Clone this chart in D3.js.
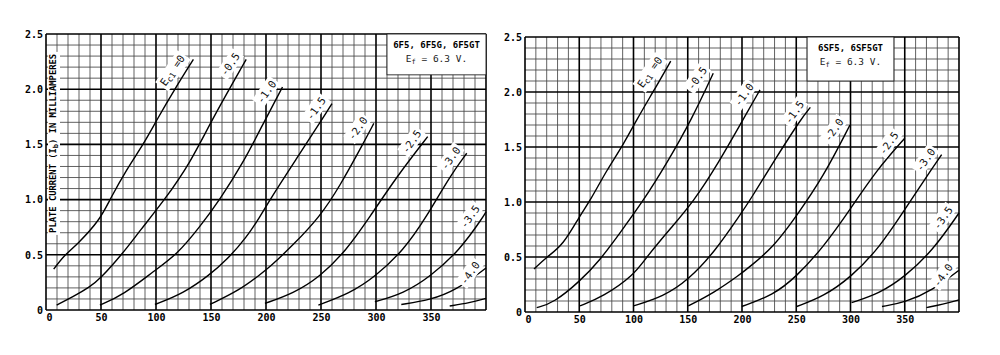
<!DOCTYPE html>
<html><head><meta charset="utf-8">
<script src="https://cdn.jsdelivr.net/npm/d3@7"></script>
<style>
html,body{margin:0;padding:0;background:#fff;}
svg{display:block;}
</style></head><body>
<svg id="c" width="1000" height="355"></svg>
<script>
// ---------- data ----------
const xTicks = [0, 50, 100, 150, 200, 250, 300, 350];
const yTicks = [0, 0.5, 1.0, 1.5, 2.0, 2.5];
const curveLabels = ["=0", "-0.5", "-1.0", "-1.5", "-2.0", "-2.5", "-3.0", "-3.5", "-4.0", null];
const leftTitle = "6F5, 6F5G, 6F5GT";
const rightTitle = "6SF5, 6SF5GT";
const heaterText = " = 6.3 V.";
const yAxisTitle = ["PLATE CURRENT (I", "b", ") IN MILLIAMPERES"];

// 6F5 family: [plate volts, plate mA]
const left0  = [[7,0.37],[17,0.50],[28,0.59],[49,0.815],[58,1.0],[73,1.27],[88.5,1.5],[100.6,1.72],[117,2.0],[134,2.27]];
const left05 = [[9.7,0.045],[24.8,0.12],[40,0.21],[49,0.28],[68.8,0.50],[85.5,0.72],[108,1.0],[131,1.33],[150.6,1.72],[182,2.27]];
const left10 = [[49,0.045],[70,0.136],[99,0.36],[118.8,0.5],[140,0.755],[158,1.0],[179,1.33],[196,1.66],[215,2.02]];
const left15 = [[99,0.05],[125,0.15],[149,0.32],[164,0.45],[182.5,0.66],[194.5,0.845],[203.6,1.0],[227,1.36],[250.6,1.72],[260,1.87]];
const left20 = [[149,0.05],[176,0.18],[194.5,0.32],[203.6,0.39],[224.8,0.59],[249,0.845],[267,1.12],[288.5,1.51],[298,1.69]];
const left25 = [[199,0.06],[224.8,0.15],[249,0.30],[273,0.54],[294.5,0.845],[319,1.21],[347,1.57]];
const left30 = [[247.6,0.045],[276,0.15],[299,0.30],[325,0.54],[346,0.845],[367,1.21],[382.5,1.42]];
const left35 = [[299,0.075],[325,0.15],[349,0.30],[376,0.54],[397.5,0.845],[400,0.89]];
const left40 = [[323,0.05],[349,0.09],[373,0.18],[400,0.38]];
const left45 = [[367,0.036],[385,0.065],[400,0.105]];

// 6SF5 family
const right0  = [[8.3,0.39],[20,0.50],[35.3,0.61],[50.7,0.88],[60,1.01],[75.3,1.29],[90.6,1.52],[103,1.75],[118,2.0],[134.3,2.28]];
const right05 = [[10.8,0.04],[26,0.08],[50.7,0.28],[69,0.47],[87.6,0.72],[109,1.01],[130.6,1.35],[153.6,1.75],[173.5,2.17]];
const right10 = [[50.7,0.055],[72,0.14],[100,0.33],[112,0.5],[135,0.77],[155,1.0],[178,1.35],[201,1.75],[216.6,2.02]];
const right15 = [[100,0.055],[127.5,0.14],[150.5,0.29],[175,0.55],[198,0.88],[207,1.01],[230,1.38],[254,1.75],[263,1.86]];
const right20 = [[150.5,0.055],[175,0.18],[198,0.34],[207,0.41],[229,0.59],[250,0.87],[275,1.23],[299.5,1.70]];
const right25 = [[199.7,0.05],[229,0.155],[250,0.32],[275,0.59],[299.5,0.93],[324,1.29],[350,1.58]];
const right30 = [[250.4,0.05],[275,0.14],[301,0.32],[327,0.59],[350,0.93],[370,1.23],[384,1.43]];
const right35 = [[301,0.085],[327,0.17],[350,0.32],[376,0.56],[400,0.90]];
const right40 = [[329,0.05],[350,0.085],[376,0.2],[400,0.38]];
const right45 = [[370,0.04],[385,0.07],[400,0.11]];

// ---------- drawing ----------
const svg = d3.select("#c");
const MONO = "'DejaVu Sans Mono', 'Liberation Mono', monospace";

function drawChart(cfg) {
  const x = d3.scaleLinear().domain([0, 400]).range([cfg.left, cfg.right]);
  const y = d3.scaleLinear().domain([0, 2.5]).range([cfg.bottom, cfg.top]);
  const g = svg.append("g");

  // grid
  const vs = d3.range(0, 401, 10);
  const is = d3.range(0, 26).map(d => d / 10);
  const grid = g.append("g");
  const drawGrid = (major) => {
    grid.selectAll(null).data(vs.filter(v => (v % 50 === 0) === major)).enter().append("line")
      .attr("x1", d => x(d)).attr("x2", d => x(d)).attr("y1", y(0)).attr("y2", y(2.5))
      .attr("stroke", major ? "#000" : "#444").attr("stroke-width", major ? 1.6 : 0.85);
    grid.selectAll(null).data(is.filter(v => (Math.round(v * 10) % 5 === 0) === major)).enter().append("line")
      .attr("y1", d => y(d)).attr("y2", d => y(d)).attr("x1", x(0)).attr("x2", x(400))
      .attr("stroke", major ? "#000" : "#444").attr("stroke-width", major ? 1.6 : 0.85);
  };
  drawGrid(false);
  drawGrid(true);

  // legend box
  const bx0 = x(cfg.box[0]), bx1 = x(cfg.box[1]), by1 = y(cfg.box[2]);
  g.append("rect").attr("x", bx0).attr("y", y(2.5)).attr("width", bx1 - bx0).attr("height", by1 - y(2.5))
    .attr("fill", "#fff").attr("stroke", "#222").attr("stroke-width", 0.9);
  const cx = (bx0 + bx1) / 2;
  g.append("text").attr("x", cx).attr("y", y(2.5) + 14).attr("text-anchor", "middle")
    .attr("font-family", MONO).attr("font-weight", "bold").attr("font-size", 9).text(cfg.title);
  const ht = g.append("text").attr("x", cx).attr("y", y(2.5) + 28).attr("text-anchor", "middle")
    .attr("font-family", MONO).attr("font-size", 9.5).attr("fill", "#222");
  ht.append("tspan").text("E");
  ht.append("tspan").attr("font-size", 7).attr("dy", 2).text("f");
  ht.append("tspan").attr("dy", -2).text(heaterText);

  // y-axis title (left chart only)
  if (cfg.yTitle) {
    const tg = g.append("g").attr("transform", `translate(${x(0) + 10},${y(1.5) - 1}) rotate(-90)`);
    const tt = tg.append("text").attr("text-anchor", "middle").attr("font-family", MONO)
      .attr("font-weight", "bold").attr("font-size", 8.8);
    tt.append("tspan").text(yAxisTitle[0]);
    tt.append("tspan").attr("font-size", 7).attr("dy", 2).text(yAxisTitle[1]);
    tt.append("tspan").attr("dy", -2).text(yAxisTitle[2]);
    const bb = tt.node().getBBox();
    tg.insert("rect", "text").attr("x", bb.x - 2).attr("y", bb.y).attr("width", bb.width + 4)
      .attr("height", bb.height).attr("fill", "#fff");
  }

  // curves
  const line = d3.line().x(d => x(d[0])).y(d => y(d[1])).curve(d3.curveBasis);
  g.append("g").selectAll("path").data(cfg.curves).enter().append("path")
    .attr("d", line).attr("fill", "none").attr("stroke", "#000").attr("stroke-width", 1.4);

  // curve labels
  cfg.curves.forEach((c, i) => {
    const lab = curveLabels[i];
    if (!lab) return;
    const end = c[c.length - 1];
    const first = i === 0;
    const dx = first ? -21 : -16, dy = first ? 11 : 5;
    const lg = g.append("g").attr("transform", `translate(${x(end[0]) + dx},${y(end[1]) + dy}) rotate(-55)`);
    const t = lg.append("text").attr("text-anchor", "middle").attr("dy", "0.35em")
      .attr("font-family", MONO).attr("font-size", 10.5).attr("fill", "#111");
    if (first) {
      t.append("tspan").text("E");
      t.append("tspan").attr("font-size", 8).attr("dy", 2).text("c1");
      t.append("tspan").attr("dy", -2).text(" " + lab);
    } else {
      t.text(lab);
    }
    const bb = t.node().getBBox();
    lg.insert("rect", "text").attr("x", bb.x - 2).attr("y", bb.y - 1).attr("width", bb.width + 4)
      .attr("height", bb.height + 2).attr("fill", "#fff");
  });

  // axes (labels only)
  const ya = d3.axisLeft(y).tickValues(yTicks).tickSize(0).tickPadding(3)
    .tickFormat(d => d === 0 ? "0" : d3.format(".1f")(d));
  const yg = g.append("g").attr("transform", `translate(${x(0)},0)`).call(ya);
  yg.select(".domain").remove();
  const xa = d3.axisBottom(x).tickValues(xTicks).tickSize(0).tickPadding(4).tickFormat(d3.format("d"));
  const xg = g.append("g").attr("transform", `translate(0,${y(0)})`).call(xa);
  xg.select(".domain").remove();
  [yg, xg].forEach(a => a.selectAll("text").attr("font-family", MONO).attr("font-weight", "bold")
    .attr("font-size", 10).attr("fill", "#000"));
  xg.selectAll(".tick").filter(d => d === 0).select("text").attr("x", 3);
}

drawChart({
  left: 46, right: 486, bottom: 310, top: 34,
  curves: [left0, left05, left10, left15, left20, left25, left30, left35, left40, left45],
  title: leftTitle, box: [310, 400, 2.13], yTitle: true
});
drawChart({
  left: 525, right: 959, bottom: 312, top: 37,
  curves: [right0, right05, right10, right15, right20, right25, right30, right35, right40, right45],
  title: rightTitle, box: [260, 340, 2.1], yTitle: false
});
</script>
</body></html>
